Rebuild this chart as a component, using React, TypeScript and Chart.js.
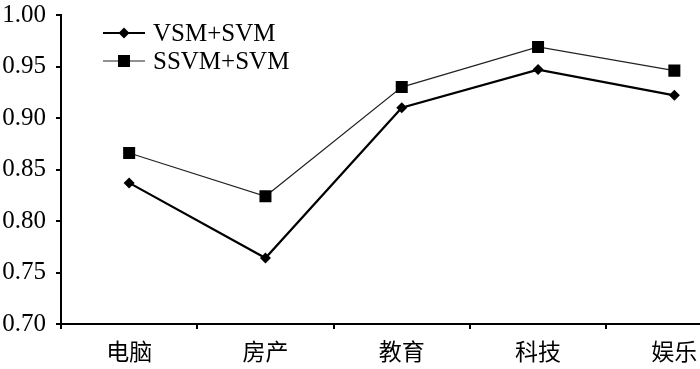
import React, { useEffect, useRef } from 'react';
import { Chart, registerables } from 'chart.js';

Chart.register(...registerables);

const categories = ['电脑', '房产', '教育', '科技', '娱乐'];
const seriesNames = ['VSM+SVM', 'SSVM+SVM'];
const vsmSvm = [0.837, 0.764, 0.910, 0.947, 0.922];
const ssvmSvm = [0.866, 0.824, 0.930, 0.969, 0.946];
const yMin = 0.7;
const yMax = 1.0;
const yStep = 0.05;

const SERIF = "'Liberation Serif', 'Times New Roman', Times, serif";
const CJK = "'Noto Sans CJK SC', sans-serif";

const legendPlugin = {
  id: 'insideLegend',
  afterDraw(chart: any) {
    const { ctx, chartArea } = chart;
    const x0 = chartArea.left + 42;
    const x1 = chartArea.left + 84;
    const xm = (x0 + x1) / 2;
    chart.data.datasets.forEach((ds: any, i: number) => {
      const y = chartArea.top + 18 + i * 28;
      ctx.save();
      ctx.strokeStyle = ds.borderColor;
      ctx.lineWidth = ds.borderWidth;
      ctx.beginPath();
      ctx.moveTo(x0, y);
      ctx.lineTo(x1, y);
      ctx.stroke();
      ctx.fillStyle = ds.pointBackgroundColor;
      const r = ds.pointRadius;
      ctx.beginPath();
      if (ds.pointStyle === 'rectRot') {
        ctx.moveTo(xm - r, y);
        ctx.lineTo(xm, y - r);
        ctx.lineTo(xm + r, y);
        ctx.lineTo(xm, y + r);
        ctx.closePath();
      } else {
        const s = Math.SQRT1_2 * r;
        ctx.rect(xm - s, y - s, 2 * s, 2 * s);
      }
      ctx.fill();
      ctx.fillStyle = '#000';
      ctx.font = `25px ${SERIF}`;
      ctx.textAlign = 'left';
      ctx.textBaseline = 'middle';
      ctx.fillText(ds.label, x1 + 8, y + 1);
      ctx.restore();
    });
  },
};

export default function App() {
  const ref = useRef<HTMLCanvasElement | null>(null);
  useEffect(() => {
    if (!ref.current) return;
    const chart = new Chart(ref.current, {
      type: 'line',
      data: {
        labels: categories,
        datasets: [
          {
            label: seriesNames[0],
            data: vsmSvm,
            borderColor: '#000',
            borderWidth: 2.2,
            pointStyle: 'rectRot',
            pointRadius: 5.5,
            pointBackgroundColor: '#000',
            pointBorderColor: '#000',
            pointBorderWidth: 0,
            tension: 0,
          },
          {
            label: seriesNames[1],
            data: ssvmSvm,
            borderColor: '#222',
            borderWidth: 1.1,
            pointStyle: 'rect',
            pointRadius: 8.5,
            pointBackgroundColor: '#000',
            pointBorderColor: '#000',
            pointBorderWidth: 0,
            tension: 0,
          },
        ],
      } as any,
      options: {
        animation: false,
        responsive: false,
        devicePixelRatio: 1,
        layout: { padding: { top: 15, left: 0, right: 6, bottom: 0 } },
        plugins: {
          legend: { display: false },
          tooltip: { enabled: false },
        },
        scales: {
          x: {
            type: 'category',
            offset: true,
            grid: {
              offset: true,
              drawOnChartArea: false,
              drawTicks: true,
              tickLength: 5,
              color: '#000',
              lineWidth: 2,
            },
            border: { color: '#000', width: 2 },
            ticks: {
              color: '#000',
              font: { family: CJK, size: 23 },
              padding: 8,
              maxRotation: 0,
              autoSkip: false,
            },
            afterFit: (scale: any) => {
              scale.height = 45;
              scale.paddingLeft = 0;
              scale.paddingRight = 0;
            },
          },
          y: {
            min: yMin,
            max: yMax,
            grid: {
              drawOnChartArea: false,
              drawTicks: true,
              tickLength: 5,
              color: '#000',
              lineWidth: 2,
            },
            border: { color: '#000', width: 2 },
            ticks: {
              stepSize: yStep,
              color: '#000',
              font: { family: SERIF, size: 25 },
              padding: 10,
              callback: (v: any) => Number(v).toFixed(2),
            },
            afterFit: (scale: any) => {
              scale.width = 61;
              scale.paddingTop = 0;
              scale.paddingBottom = 0;
            },
          },
        },
      } as any,
      plugins: [legendPlugin],
    });
    return () => chart.destroy();
  }, []);
  return (
    <div
      style={{
        position: 'fixed',
        left: 0,
        top: 0,
        width: 700,
        height: 369,
        overflow: 'hidden',
        background: '#fff',
      }}
    >
      <canvas ref={ref} width={751} height={369} style={{ display: 'block' }} />
    </div>
  );
}
